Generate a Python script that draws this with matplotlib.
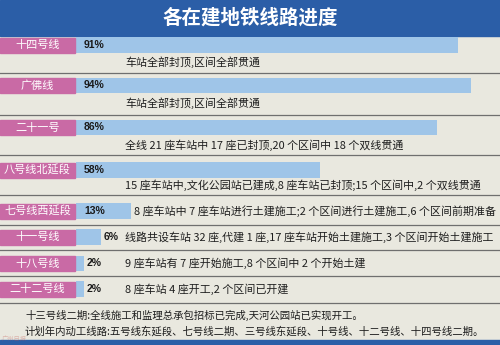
import matplotlib
matplotlib.use("Agg")
import matplotlib.pyplot as plt
from matplotlib.patches import Rectangle

plt.rcParams['font.family'] = ['Noto Sans CJK SC', 'DejaVu Sans']

# data
lines = ["十四号线", "广佛线", "二十一号", "八号线北延段", "七号线西延段", "十一号线", "十八号线", "二十二号线"]
progress = [91, 94, 86, 58, 13, 6, 2, 2]
notes = [
    "车站全部封顶,区间全部贯通",
    "车站全部封顶,区间全部贯通",
    "全线 21 座车站中 17 座已封顶,20 个区间中 18 个双线贯通",
    "15 座车站中,文化公园站已建成,8 座车站已封顶;15 个区间中,2 个双线贯通",
    "8 座车站中 7 座车站进行土建施工;2 个区间进行土建施工,6 个区间前期准备",
    "线路共设车站 32 座,代建 1 座,17 座车站开始土建施工,3 个区间开始土建施工",
    "9 座车站有 7 座开始施工,8 个区间中 2 个开始土建",
    "8 座车站 4 座开工,2 个区间已开建",
]
title = "各在建地铁线路进度"
footer = [
    "十三号线二期:全线施工和监理总承包招标已完成,天河公园站已实现开工。",
    "计划年内动工线路:五号线东延段、七号线二期、三号线东延段、十号线、十二号线、十四号线二期。",
]

# layout (pixel coords)
row_y = [45, 85.5, 127.5, 170, 211, 237, 263.5, 289]
note_y = [62, 103, 145, 185, 211, 237, 263.5, 289]
sep_y = [73, 115, 155, 195, 225, 250, 276, 303]
bar_x0 = 76
px_per_pct = 4.2

bg = "#e9e8df"
blue = "#2b5ea7"
pink = "#c96aa5"
barc = "#9fc5e8"

fig = plt.figure(figsize=(5, 3.45), dpi=100, facecolor=bg)
ax = fig.add_axes([0, 0, 1, 1])
ax.set_xlim(0, 500)
ax.set_ylim(345, 0)
ax.axis("off")

# title bar
ax.add_patch(Rectangle((0, 0), 500, 36, color=blue))
ax.text(250, 18, title, color="white", fontsize=14, fontweight="bold",
        ha="center", va="center")
ax.add_patch(Rectangle((0, 340), 500, 5, color=blue))

# bars
widths = [p * px_per_pct for p in progress]
ax.barh(row_y, widths, left=bar_x0, height=15.5, color=barc)

for i in range(len(lines)):
    y = row_y[i]
    ax.add_patch(Rectangle((0, y - 7.5), 75, 15, color=pink))
    ax.text(37.5, y, lines[i], color="white", fontsize=8, ha="center", va="center")
    end = bar_x0 + widths[i]
    if progress[i] >= 10:
        px = 84
    else:
        px = end + 2
    ax.text(px, y, f"{progress[i]}%", fontsize=7.5, fontweight="bold",
            family="Liberation Sans", color="#1a1a1a", ha="left", va="center")
    nx = 125 if i < 4 else max(125, end + 3)
    ax.text(nx, note_y[i], notes[i], fontsize=7.9, color="#1e1e1e", ha="left", va="center")
    ax.plot([0, 500], [sep_y[i], sep_y[i]], color="#6f6f6f", lw=0.9)

ax.text(25, 315, footer[0], fontsize=7.5, color="#1e1e1e", ha="left", va="center")
ax.text(25, 331, footer[1], fontsize=7.5, color="#1e1e1e", ha="left", va="center")
ax.text(2, 339.5, "广州日报", fontsize=4.5, color="#c0504d", alpha=0.35,
        style="italic", ha="left", va="center")

fig.savefig("out.png", dpi=100, facecolor=bg)
